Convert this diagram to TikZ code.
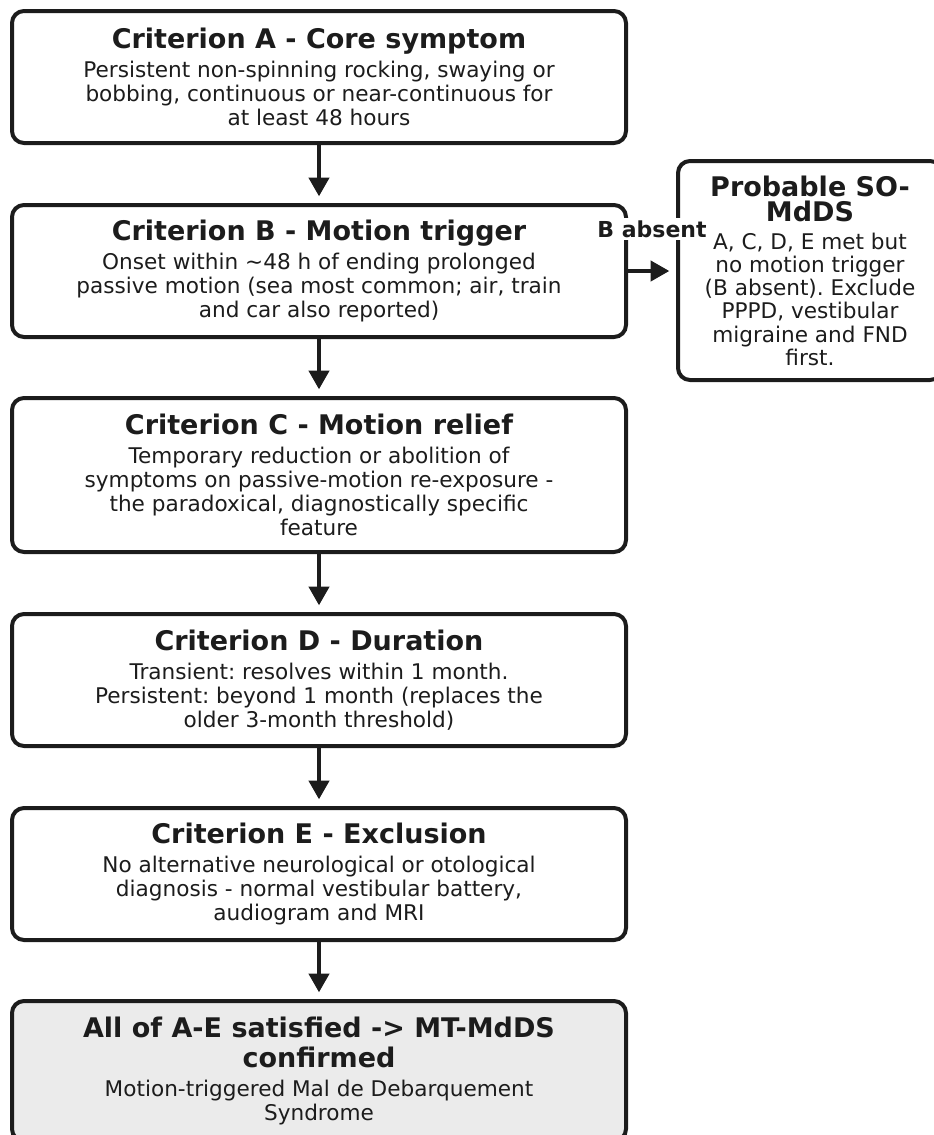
\documentclass[tikz,border=0pt]{standalone}
\usepackage{fontspec}
\setmainfont{DejaVu Sans}
\usetikzlibrary{arrows.meta}
\definecolor{ink}{HTML}{1C1C1C}
\definecolor{finalfill}{HTML}{EBEBEB}
\tikzset{
  critbox/.style={draw=ink, line width=3pt, rounded corners=9pt, fill=white,
    align=center, text=ink, inner sep=0pt, minimum width=460.5pt,
    text width=450pt},
  sidebox/.style={critbox, minimum width=198pt, text width=190pt,
    minimum height=164.25pt},
  finalbox/.style={critbox, fill=finalfill},
  flow/.style={draw=ink, line width=3pt, -{Triangle[length=14pt,width=15pt]}, shorten >=5pt},
  tagtext/.style={fill=white, text=ink, inner sep=2pt,
    font=\bfseries\fontsize{16.5}{18}\selectfont},
}
% fixed interword space taken from the font in force
\newcommand{\natspace}{\spaceskip=\fontdimen2\font\relax \xspaceskip=\fontdimen2\font\relax}
% heading paragraph (line pitch as optional argument) and body paragraph
\newcommand{\headpar}[2][18.75pt]{{\bfseries\fontsize{20.25}{#1}\selectfont
  \natspace #2\par}\vspace{3.75pt}}
\newcommand{\bodypar}[2][18pt]{{\fontsize{16.2}{#1}\selectfont
  \natspace #2\par}}
\begin{document}
\begin{tikzpicture}[x=0.75pt, y=-0.75pt]
  \useasboundingbox (0,0) rectangle (934,1135);

  \node[critbox, minimum height=99pt] (A) at (319,77)
    {\headpar{Criterion A - Core symptom}
     \bodypar{Persistent non-spinning rocking, swaying or\\
     bobbing, continuous or near-continuous for\\
     at least 48 hours}};

  \node[critbox, minimum height=99pt] (B) at (319,271)
    {\headpar{Criterion B - Motion trigger}
     \bodypar{Onset within \textasciitilde48 h of ending prolonged\\
     passive motion (sea most common; air, train\\
     and car also reported)}};

  \node[critbox, minimum height=115.5pt] (C) at (319,475)
    {\headpar{Criterion C - Motion relief}
     \bodypar{Temporary reduction or abolition of\\
     symptoms on passive-motion re-exposure -\\
     the paradoxical, diagnostically specific\\
     feature}};

  \node[critbox, minimum height=99pt] (D) at (319,680)
    {\headpar{Criterion D - Duration}
     \bodypar{Transient: resolves within 1 month.\\
     Persistent: beyond 1 month (replaces the\\
     older 3-month threshold)}};

  \node[critbox, minimum height=99pt] (E) at (319,874)
    {\headpar{Criterion E - Exclusion}
     \bodypar{No alternative neurological or otological\\
     diagnosis - normal vestibular battery,\\
     audiogram and MRI}};

  \node[finalbox, minimum height=105pt] (F) at (319,1071)
    {\headpar[22pt]{All of A-E satisfied -> MT-MdDS\\ confirmed}
     \bodypar{Motion-triggered Mal de Debarquement\\
     Syndrome}};

  \node[sidebox] (R) at (810,270.5)
    {\headpar{Probable SO-\\ MdDS}
     \bodypar[17.4pt]{A, C, D, E met but\\
     no motion trigger\\
     (B absent). Exclude\\
     PPPD, vestibular\\
     migraine and FND\\
     first.}};

  \draw[flow] (A) -- (B);
  \draw[flow] (B) -- (C);
  \draw[flow] (C) -- (D);
  \draw[flow] (D) -- (E);
  \draw[flow] (E) -- (F);
  \draw[flow] (B.east) -- (R.west |- B.east);

  \node[tagtext] (tag) at (652,229) {B absent};
\end{tikzpicture}
\end{document}
